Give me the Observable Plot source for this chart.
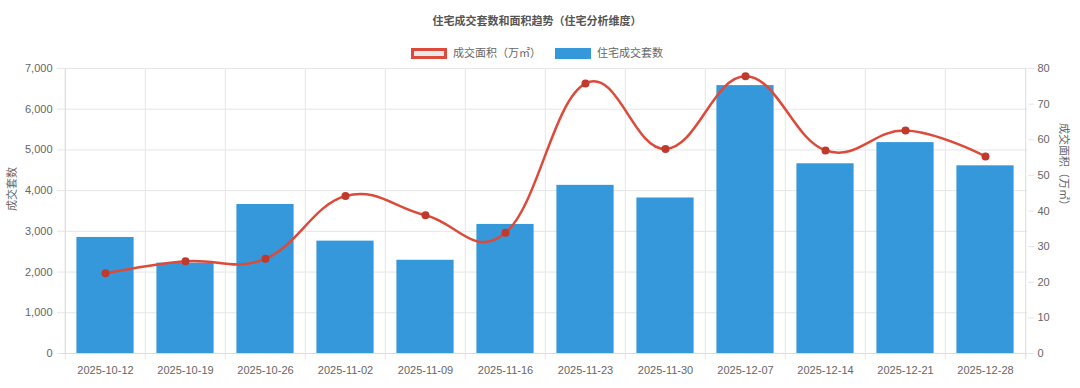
<!DOCTYPE html>
<html>
<head>
<meta charset="utf-8">
<script src="https://cdn.jsdelivr.net/npm/d3@7"></script>
<script src="https://cdn.jsdelivr.net/npm/@observablehq/plot@0.6"></script>
<style>
  html, body { margin: 0; padding: 0; background: #fff; }
  body { width: 1080px; height: 388px; overflow: hidden; font-family: "Liberation Sans", Arial, "Noto Sans CJK SC", sans-serif; color: #666; }
  #header { position: relative; height: 62px; width: 1080px; }
  #title { position: absolute; top: 13px; left: 0; width: 1074px; text-align: center; font-weight: bold; font-size: 11px; color: #555; line-height: 16px; }
  #legend { position: absolute; top: 46px; left: 0; width: 1074px; display: flex; justify-content: center; align-items: center; font-size: 11px; line-height: 14px; color: #666; }
  .item { display: flex; align-items: center; margin: 0 7px; }
  .sw { width: 36px; height: 11px; box-sizing: border-box; margin-right: 6px; }
</style>
</head>
<body>
<div id="header">
  <div id="title">住宅成交套数和面积趋势（住宅分析维度）</div>
  <div id="legend"></div>
</div>
<div id="chart"></div>
<script>
const weeks = ["2025-10-12","2025-10-19","2025-10-26","2025-11-02","2025-11-09","2025-11-16","2025-11-23","2025-11-30","2025-12-07","2025-12-14","2025-12-21","2025-12-28"];
const units = [2850, 2220, 3660, 2760, 2290, 3170, 4130, 3820, 6580, 4660, 5180, 4610];
const area = [22.5, 25.9, 26.6, 44.2, 38.8, 33.9, 75.8, 57.4, 77.8, 57.0, 62.6, 55.3];
const leftTicks = [0, 1000, 2000, 3000, 4000, 5000, 6000, 7000];
const rightTicks = [0, 10, 20, 30, 40, 50, 60, 70, 80];
const seriesNames = ["成交面积（万㎡）", "住宅成交套数"];
const leftTitle = "成交套数";
const rightTitle = "成交面积（万㎡）";

const leftMax = 7000, rightMax = 80;
const k = leftMax / rightMax;
const data = weeks.map((w, i) => ({week: w, units: units[i], area: area[i]}));

const width = 1080, height = 326;
const mL = 62, mR = 53, mT = 6, mB = 35;
const bw = (width - mL - mR) / weeks.length;
const gridColor = "#e6e6e6";
const lineColor = "#dd4a3a";

// legend
const legend = document.getElementById("legend");
legend.innerHTML = `
  <div class="item"><div class="sw" style="border:3px solid ${lineColor};background:#e9e9e9"></div>${seriesNames[0]}</div>
  <div class="item"><div class="sw" style="background:#3498db"></div>${seriesNames[1]}</div>`;

const chart = Plot.plot({
  width, height,
  marginLeft: mL, marginRight: mR, marginTop: mT, marginBottom: mB,
  style: {fontSize: "11px", fontFamily: "'Liberation Sans', Arial, 'Noto Sans CJK SC', sans-serif", color: "#666", background: "#fff"},
  x: {type: "band", domain: weeks, padding: 0, label: null},
  y: {domain: [0, leftMax], label: null},
  marks: [
    Plot.ruleY(leftTicks, {stroke: gridColor}),
    Plot.ruleX(weeks, {dx: -bw / 2, stroke: gridColor, insetBottom: -6}),
    Plot.ruleX([weeks[weeks.length - 1]], {dx: bw / 2, stroke: "#dcdcdc", insetBottom: -6}),
    Plot.ruleX([weeks[0]], {dx: -bw / 2, stroke: "#dcdcdc"}),
    Plot.ruleY([0], {stroke: "#dcdcdc"}),
    Plot.barY(data, {x: "week", y: "units", fill: "#3498db", insetLeft: 11.4, insetRight: 11.4}),
    Plot.line(data, {x: "week", y: d => d.area * k, stroke: lineColor, strokeWidth: 2.5, curve: "cardinal", tension: -0.2}),
    Plot.dot(data, {x: "week", y: d => d.area * k, r: 4, fill: "#c0392b"}),
    Plot.axisX({tickSize: 0, tickPadding: 13, fill: "#666", label: null}),
    Plot.axisY(leftTicks, {anchor: "left", tickSize: 5, tickPadding: 5, stroke: gridColor, fill: "#666", tickFormat: d3.format(","), label: null}),
    Plot.axisY(rightTicks.map(v => v * k), {anchor: "right", tickSize: 6, tickPadding: 4, stroke: gridColor, fill: "#666", tickFormat: d => String(Math.round(d / k)), label: null}),
    Plot.text([leftTitle], {frameAnchor: "left", dx: -50, rotate: -90, fill: "#666", fontSize: 11}),
    Plot.text([rightTitle], {frameAnchor: "right", dx: 36, rotate: 90, fill: "#666", fontSize: 11})
  ]
});
document.getElementById("chart").appendChild(chart);
</script>
</body>
</html>
